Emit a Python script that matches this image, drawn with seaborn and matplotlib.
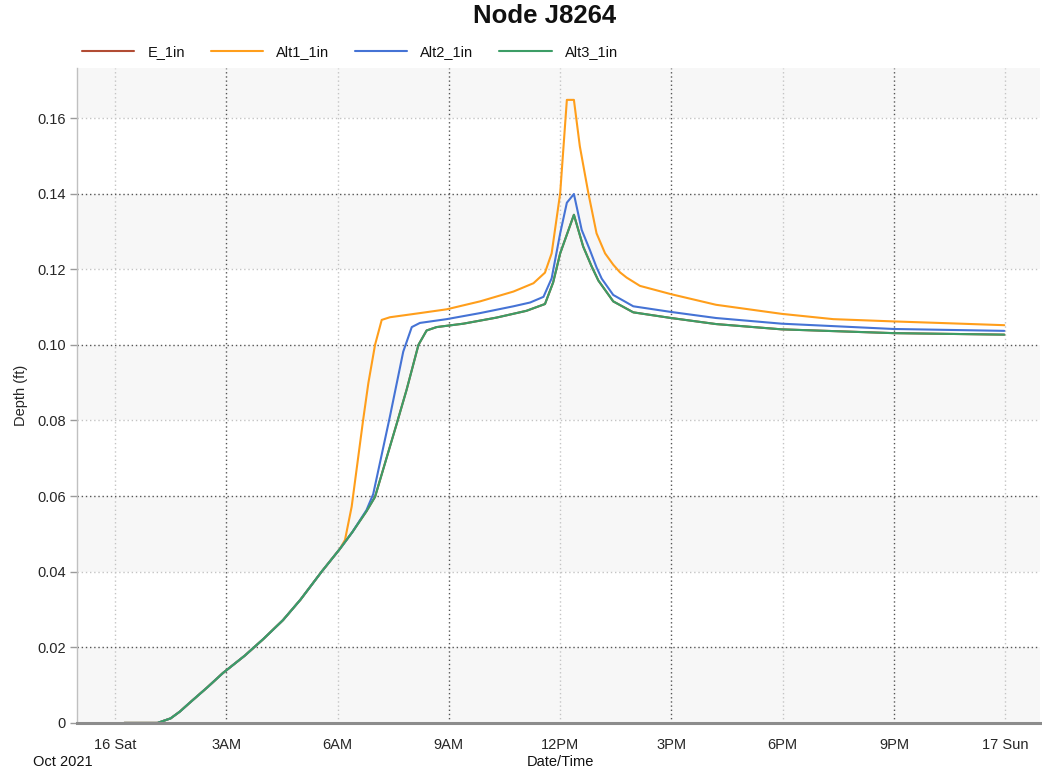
import matplotlib
matplotlib.use("Agg")
import matplotlib.pyplot as plt
import pandas as pd
import seaborn as sns

# hours after 16 Oct 2021 00:00, depth in ft
alt1_hours = [0.25, 1.15, 1.5, 1.75, 2.0, 2.5, 2.91, 3.5, 4.0, 4.53, 5.0, 5.57, 6.06,
              6.2, 6.38, 6.69, 6.83, 7.01, 7.19, 7.41, 8.22, 8.94, 9.84, 10.74, 11.28,
              11.59, 11.77, 12.0, 12.18, 12.37, 12.53, 12.76, 12.98, 13.21, 13.43, 13.61,
              13.79, 14.15, 14.99, 16.2, 17.97, 19.36, 20.98, 22.5, 23.97]
alt1_depth = [0.0, 0.0, 0.0012, 0.003, 0.0052, 0.0095, 0.0132, 0.0178, 0.0222, 0.0272,
              0.0326, 0.040, 0.046,
              0.0484, 0.0572, 0.0802, 0.0899, 0.1000, 0.1066, 0.1073, 0.1084, 0.1094,
              0.1115, 0.1141, 0.1163, 0.1191, 0.1242, 0.1401, 0.1648, 0.1648, 0.1525,
              0.1401, 0.1295, 0.1242, 0.1212, 0.1192, 0.1178, 0.1156, 0.1134, 0.1106,
              0.1082, 0.1068, 0.1062, 0.1057, 0.1052]

alt2_hours = [0.25, 1.15, 1.5, 1.75, 2.0, 2.5, 2.91, 3.5, 4.0, 4.53, 5.0, 5.57, 6.06,
              6.4, 6.78, 6.96, 7.41, 7.77, 8.0, 8.22, 8.94, 9.84, 10.74, 11.19, 11.55,
              11.77, 12.0, 12.18, 12.37, 12.58, 12.8, 12.98, 13.12, 13.43, 13.97, 14.99,
              16.2, 17.97, 20.98, 23.97]
alt2_depth = [0.0, 0.0, 0.0012, 0.003, 0.0052, 0.0095, 0.0132, 0.0178, 0.0222, 0.0272,
              0.0326, 0.040, 0.046,
              0.0505, 0.0563, 0.0605, 0.0810, 0.0982, 0.1047, 0.1058, 0.1068, 0.1084,
              0.1102, 0.1112, 0.1127, 0.1176, 0.1295, 0.1376, 0.1399, 0.1304, 0.1251,
              0.1205, 0.1175, 0.1132, 0.1102, 0.1087, 0.1071, 0.1056, 0.1042, 0.1037]

alt3_hours = [0.25, 1.15, 1.5, 1.75, 2.0, 2.5, 2.91, 3.5, 4.0, 4.53, 5.0, 5.57, 6.06,
              6.4, 6.78, 7.01, 7.59, 7.86, 8.18, 8.4, 8.67, 9.39, 10.28, 11.09, 11.59,
              11.81, 12.0, 12.37, 12.62, 12.85, 13.03, 13.43, 13.97, 14.99, 16.2, 17.97,
              20.98, 23.97]
alt3_depth = [0.0, 0.0, 0.0012, 0.003, 0.0052, 0.0095, 0.0132, 0.0178, 0.0222, 0.0272,
              0.0326, 0.040, 0.046,
              0.0505, 0.0560, 0.0598, 0.0790, 0.0881, 0.1000, 0.1038, 0.1047, 0.1056,
              0.1072, 0.1090, 0.1108, 0.1165, 0.1242, 0.1344, 0.1260, 0.1207, 0.1170,
              0.1115, 0.1086, 0.1071, 0.1055, 0.1041, 0.1031, 0.1027]

# E_1in never shows in the picture: it sits under Alt3_1in
e_hours = alt3_hours
e_depth = alt3_depth

series = ["E_1in", "Alt1_1in", "Alt2_1in", "Alt3_1in"]
colors = ["#b24c34", "#ff9e1b", "#4573d5", "#3c9d66"]

tick_hours = [0, 3, 6, 9, 12, 15, 18, 21, 24]
tick_labels = ["16 Sat", "3AM", "6AM", "9AM", "12PM", "3PM", "6PM", "9PM", "17 Sun"]
y_ticks = [0, 0.02, 0.04, 0.06, 0.08, 0.10, 0.12, 0.14, 0.16]
y_labels = ["0", "0.02", "0.04", "0.06", "0.08", "0.10", "0.12", "0.14", "0.16"]

start = pd.Timestamp("2021-10-16 00:00")
frames = []
for name, hrs, dep in zip(series, [e_hours, alt1_hours, alt2_hours, alt3_hours],
                          [e_depth, alt1_depth, alt2_depth, alt3_depth]):
    frames.append(pd.DataFrame({
        "time": start + pd.to_timedelta(hrs, unit="h"),
        "depth": dep,
        "series": name,
    }))
df = pd.concat(frames, ignore_index=True)

sns.set_theme(style="white")
plt.rcParams["font.family"] = ["Liberation Sans", "DejaVu Sans"]
plt.rcParams["text.color"] = "#111111"

fig = plt.figure(figsize=(10.42, 7.74), dpi=100)
ax = fig.add_axes([0.074, 0.066, 0.924, 0.846])

# alternating horizontal bands
y_top = 0.1732
band_edges = y_ticks + [y_top]
for i in range(0, len(band_edges) - 1, 2):
    ax.axhspan(band_edges[i], band_edges[i + 1], color="#f7f7f7", lw=0, zorder=0)

sns.lineplot(data=df, x="time", y="depth", hue="series", hue_order=series,
             palette=dict(zip(series, colors)), linewidth=1.5, errorbar=None,
             sort=False, ax=ax, legend=False, zorder=3)

ax.set_xlim(start - pd.Timedelta(hours=1.02), start + pd.Timedelta(hours=24.93))
ax.set_ylim(0, y_top)
ax.set_xticks([start + pd.Timedelta(hours=h) for h in tick_hours])
ax.set_xticklabels(tick_labels, fontsize=10.5)
ax.set_yticks(y_ticks)
ax.set_yticklabels(y_labels, fontsize=10.5)
ax.tick_params(axis="x", length=0, pad=11)
ax.tick_params(axis="y", length=5, width=1, color="#9a9a9a", pad=3, left=True)

ax.grid(True, linestyle=(0, (1, 2)), linewidth=1.0)
for i, gl in enumerate(ax.xaxis.get_gridlines()):
    gl.set_color("#555555" if i % 2 else "#c4c4c4")
for i, gl in enumerate(ax.yaxis.get_gridlines()):
    gl.set_color("#555555" if i % 2 else "#c4c4c4")
ax.set_axisbelow(True)

for side in ["top", "right"]:
    ax.spines[side].set_visible(False)
ax.spines["left"].set_color("#c0c0c0")
ax.spines["left"].set_linewidth(1.0)
ax.spines["bottom"].set_color("#8c8c8c")
ax.spines["bottom"].set_linewidth(2.2)
ax.spines["bottom"].set_zorder(4)

ax.set_xlabel("")
ax.set_ylabel("Depth (ft)", fontsize=10.5, labelpad=7)
fig.text(0.538, 0.006, "Date/Time", ha="center", va="bottom", fontsize=10.5)
fig.text(0.06, 0.006, "Oct 2021", ha="center", va="bottom", fontsize=10.5)
fig.suptitle("Node J8264", x=0.523, y=0.995, fontsize=18.5, fontweight="bold")

handles = [plt.Line2D([], [], color=c, lw=1.5) for c in colors]
fig.legend(handles, series, loc="center left", bbox_to_anchor=(0.066, 0.933),
           ncol=4, frameon=False, fontsize=10.5, handlelength=3.6,
           columnspacing=1.75, handletextpad=0.9)

fig.savefig("out.png", dpi=100)
